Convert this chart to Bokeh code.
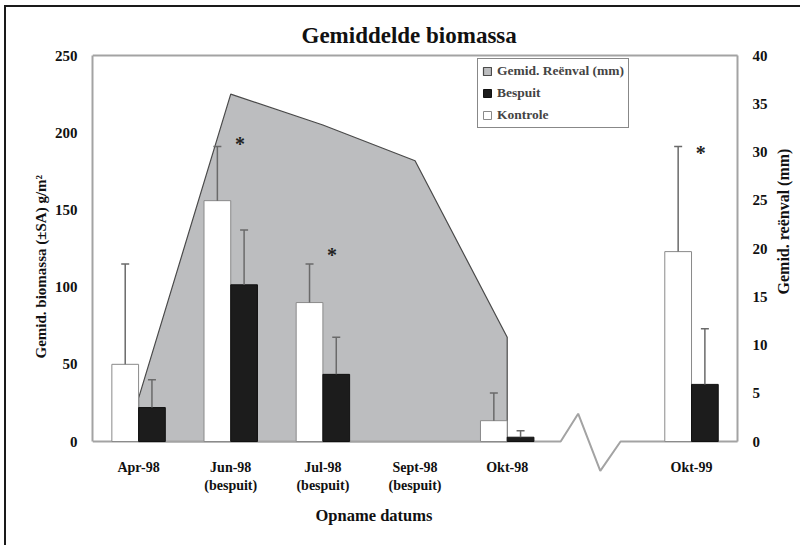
import math
from bokeh.plotting import figure
from bokeh.models import (Range1d, LinearAxis, FixedTicker, Legend, LegendItem,
                          ColumnDataSource, Whisker, TeeHead, Title, Label)
from bokeh.core.properties import value
from bokeh.embed import file_html
from bokeh.resources import INLINE

# ---------------- data ----------------
categories = ["Apr-98", "Jun-98\n(bespuit)", "Jul-98\n(bespuit)",
              "Sept-98\n(bespuit)", "Okt-98", "Okt-99"]
kontrole = [50, 156, 90, None, 13.5, 123]
kontrole_sa = [65, 35, 25, None, 18, 68]
bespuit = [22, 101.5, 43.5, None, 2.8, 37]
bespuit_sa = [18, 35.5, 24, None, 4.2, 36]
reenval = [4.5, 36, 32.8, 29.1, 10.8]          # Apr-98 .. Okt-98
significant = [False, True, True, False, False, True]
star_height = [None, 193, 121, None, None, 187]
left_ticks = [0, 50, 100, 150, 200, 250]
right_ticks = [0, 5, 10, 15, 20, 25, 30, 35, 40]

# ---------------- layout helpers ----------------
BREAK_SLOT = 5
xpos = [i if i < BREAK_SLOT else i + 1 for i in range(len(categories))]
FONT = "Liberation Serif"
AXIS_GREY = "#a3a3a3"
Y0, Y1 = -36.9, 255.2
X_LEFT, X_RIGHT = -0.5, 6.5
BAR_W = 0.29

p = figure(width=796, height=540, output_backend="svg", toolbar_location=None,
           x_range=Range1d(X_LEFT, 7.15), y_range=Range1d(Y0, Y1),
           min_border_left=86, min_border_right=5, min_border_top=40,
           min_border_bottom=49, background_fill_color="white",
           border_fill_color="white", outline_line_color=None)
p.styles = {"margin-left": "4px", "margin-top": "5px",
            "border-left": "2px solid #1a1a1a", "border-top": "2px solid #1a1a1a"}
p.xgrid.visible = False
p.ygrid.visible = False

p.title.text = "Gemiddelde biomassa"
p.title.align = "left"
p.title.offset = 209
p.title.text_font = FONT
p.title.text_font_style = "bold"
p.title.text_font_size = "23px"
p.title.text_color = "#111111"
p.title.standoff = 0

p.extra_y_ranges = {"rain": Range1d(Y0 * 40 / 250, Y1 * 40 / 250)}

# rainfall area
rx = [xpos[0]] + xpos[:len(reenval)] + [xpos[len(reenval) - 1]]
ry = [0] + reenval + [0]
area = p.patch(rx, ry, fill_color="#bcbdbf", line_color="#4a4a4a",
               line_width=1.2, y_range_name="rain")

# frame: baseline with axis break, and top edge
b = BREAK_SLOT
p.line([X_LEFT, b - 0.42, b - 0.23, b + 0.01, b + 0.23, X_RIGHT],
       [0, 0, 18, -19, 0, 0], line_color=AXIS_GREY, line_width=2)
p.line([X_LEFT, X_RIGHT], [250, 250], line_color=AXIS_GREY, line_width=2)

# bars
idx = [i for i in range(len(categories)) if kontrole[i] is not None]
ks = ColumnDataSource(dict(
    x=[xpos[i] - BAR_W / 2 for i in idx],
    top=[kontrole[i] for i in idx],
    hi=[kontrole[i] + kontrole_sa[i] for i in idx]))
bs = ColumnDataSource(dict(
    x=[xpos[i] + BAR_W / 2 for i in idx],
    top=[bespuit[i] for i in idx],
    hi=[bespuit[i] + bespuit_sa[i] for i in idx]))

kbar = p.vbar(x="x", top="top", bottom=0, width=BAR_W, source=ks,
              fill_color="white", line_color="#8a8a8a", line_width=1)
bbar = p.vbar(x="x", top="top", bottom=0, width=BAR_W, source=bs,
              fill_color="#1c1c1c", line_color="#111111", line_width=1)

for src in (ks, bs):
    w = Whisker(source=src, base="x", lower="top", upper="hi", level="overlay",
                line_color="#6a6a6a", line_width=1.5, lower_head=None,
                upper_head=TeeHead(size=8, line_color="#6a6a6a", line_width=1.5))
    p.add_layout(w)

# significance stars
sidx = [i for i in range(len(categories)) if significant[i]]
p.text(x=[xpos[i] + 0.1 for i in sidx], y=[star_height[i] for i in sidx],
       text=["*"] * len(sidx), text_font=value(FONT), text_font_style="bold",
       text_font_size="20px", text_align="center", text_baseline="middle",
       text_color="#222222")

# axes
yl = p.yaxis[0]
yl.ticker = FixedTicker(ticks=left_ticks)
yl.bounds = (0, 250)
yr = LinearAxis(y_range_name="rain", ticker=FixedTicker(ticks=right_ticks),
                bounds=(0, 40), fixed_location=X_RIGHT)
p.add_layout(yr, "right")
for ax in (yl, yr):
    ax.axis_line_color = AXIS_GREY
    ax.axis_line_width = 2
    ax.major_tick_line_color = None
    ax.minor_tick_line_color = None
    ax.major_label_text_font = FONT
    ax.major_label_text_font_style = "bold"
    ax.major_label_text_font_size = "15px"
    ax.major_label_text_color = "#111111"
    ax.major_label_standoff = 9

xa = p.xaxis[0]
xa.fixed_location = 0
xa.ticker = FixedTicker(ticks=xpos)
xa.major_label_overrides = {xpos[i]: categories[i] for i in range(len(categories))}
xa.axis_line_color = None
xa.major_tick_line_color = None
xa.minor_tick_line_color = None
xa.major_label_text_font = FONT
xa.major_label_text_font_style = "bold"
xa.major_label_text_font_size = "14px"
xa.major_label_text_color = "#111111"
xa.major_label_standoff = 12

# axis titles
ylab = Title(text="Gemid. biomassa (±SA) g/m²", align="left", offset=140,
             text_font=FONT, text_font_style="bold", text_font_size="15px",
             text_color="#111111", standoff=6)
p.add_layout(ylab, "left")
xlab = Title(text="Opname datums", align="left", offset=223,
             text_font=FONT, text_font_style="bold", text_font_size="16.5px",
             text_color="#111111", standoff=10)
p.add_layout(xlab, "below")
rlab = Label(x=7.0, y=142.5, text="Gemid. reënval (mm)", angle=math.pi / 2,
             text_font=FONT, text_font_style="bold", text_font_size="16px",
             text_color="#111111", text_align="center", text_baseline="middle")
p.add_layout(rlab)

legend = Legend(items=[
    LegendItem(label="Gemid. Reënval (mm)", renderers=[area]),
    LegendItem(label="Bespuit", renderers=[bbar]),
    LegendItem(label="Kontrole", renderers=[kbar]),
], location=(385, 370), border_line_color="#111111", border_line_width=1,
    background_fill_color="white", background_fill_alpha=1,
    label_text_font=FONT, label_text_font_style="bold", label_text_font_size="13.5px",
    glyph_width=10, glyph_height=10, label_height=16, spacing=6, padding=4,
    margin=0, label_standoff=5)
p.add_layout(legend)

open("out.html", "w").write(file_html(p, INLINE))
